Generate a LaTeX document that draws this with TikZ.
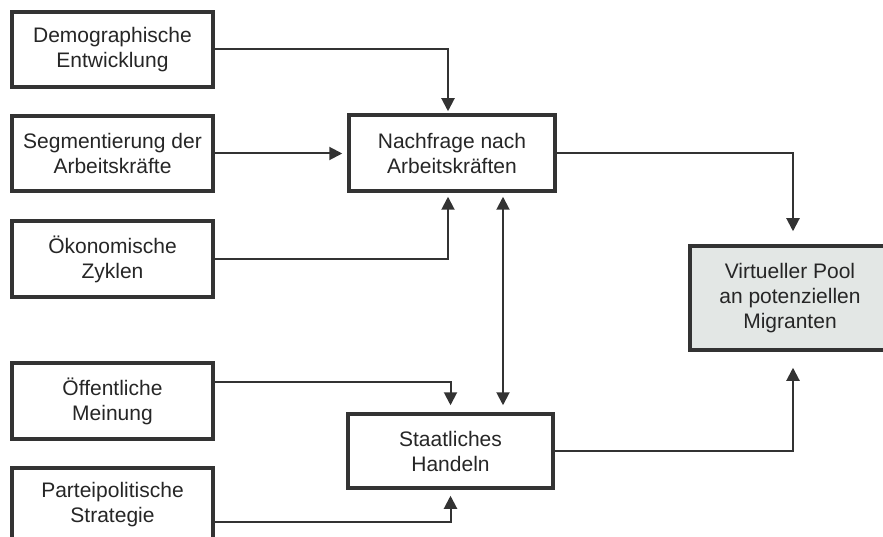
\documentclass[tikz,border=0pt]{standalone}
\usepackage{fontspec}
\setmainfont{Liberation Sans}
\usetikzlibrary{arrows.meta}
\definecolor{ink}{HTML}{333333}
\definecolor{poolfill}{HTML}{E3E7E5}
\tikzset{
  box/.style={draw=ink, line width=3.5pt, fill=white, inner sep=0pt, align=center,
    text=black!85, font=\fontsize{21}{25}\selectfont},
  arr/.style={draw=ink, line width=2pt, -{Triangle[length=13pt,width=13pt]}},
  dbl/.style={draw=ink, line width=2pt, {Triangle[length=13pt,width=13pt]}-{Triangle[length=13pt,width=13pt]}}
}
\begin{document}
\begin{tikzpicture}[x=1pt,y=-1pt]
\useasboundingbox (0,0) rectangle (883,537);
\clip (0,0) rectangle (883,537);
% left column
\node[box, minimum width=201pt, minimum height=75pt] (demo) at (112.5,49.5) {Demographische\\Entwicklung};
\node[box, minimum width=201pt, minimum height=75pt] (seg) at (112.5,153.5) {Segmentierung der\\Arbeitskräfte};
\node[box, minimum width=201pt, minimum height=76pt] (oek) at (112.5,259) {Ökonomische\\Zyklen};
\node[box, minimum width=201pt, minimum height=76pt] (oef) at (112.5,401) {Öffentliche\\Meinung};
\node[box, minimum width=201pt, minimum height=74pt] (par) at (112.5,505) {Parteipolitische\\Strategie};
% middle
\node[box, minimum width=206pt, minimum height=76pt] (nach) at (452,153) {Nachfrage nach\\Arbeitskräften};
\node[box, minimum width=205pt, minimum height=74pt] (staat) at (450.5,451) {Staatliches\\Handeln};
% right (box runs past the right edge of the picture)
\draw[draw=ink, line width=3.5pt, fill=poolfill] (690,246) rectangle (960,350);
\node[box, draw=none, fill=none, minimum width=200pt, minimum height=104pt] (pool) at (790,298) {Virtueller Pool\\an potenziellen\\Migranten};
% connectors
\draw[arr, shorten >=2pt] (demo.east) -| ([xshift=-4pt]nach.north);
\draw[arr, shorten >=5pt] (seg.east) -- (seg.east -| nach.west);
\draw[arr, shorten >=4pt] (oek.east) -| ([xshift=-4pt]nach.south);
\draw[dbl, shorten <=4pt, shorten >=7pt] ([xshift=51pt]nach.south) -- ([xshift=51pt]nach.south |- staat.north);
\draw[arr, shorten >=13pt] (nach.east) -| ([xshift=3pt]pool.north);
\draw[arr, shorten >=16pt] (staat.east) -| ([xshift=3pt]pool.south);
\draw[arr, shorten >=7pt] ([yshift=19pt]oef.east) -| (staat.north);
\draw[arr, shorten >=6pt] ([yshift=-17pt]par.east) -| (staat.south);
\end{tikzpicture}
\end{document}
